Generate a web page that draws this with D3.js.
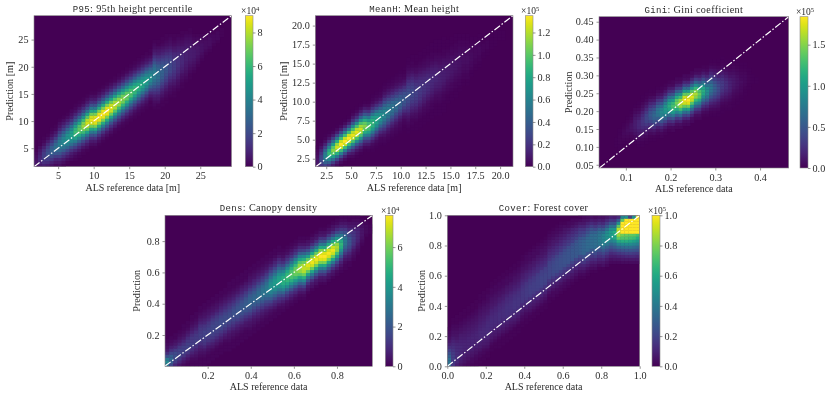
<!DOCTYPE html>
<html><head><meta charset="utf-8">
<script src="https://cdn.jsdelivr.net/npm/d3@7/dist/d3.min.js"></script>
<style>html,body{margin:0;background:#fff}svg{display:block;filter:blur(0.4px)}</style>
</head><body><svg id="c" width="830" height="396"></svg>
<script>
// Histogram counts in thousands, read by eye, column by column (reference bin) from each column's first occupied row.
const p95Start=[0,0,0,0,0,0,0,0,1,2,2,3,4,5,6,6,7,8,9,10,11,12,13,14,15,16,17,18,19,20,19,19,20,21,23,23,25,26,28,29,31,33,35,37,38,40,41,43,0,0];
const p95Cols=[[5,5,4,3,2,1],[7,9,10,9,7,5,3,1,1],[8,12,15,16,15,12,8,4,2,1],[6,11,16,20,22,20,16,11,6,3,1],[4,8,14,20,26,28,26,20,14,8,4,2,1],[2,5,9,16,24,30,33,30,24,16,9,5,2,1],[3,5,9,16,23,30,36,38,36,30,23,16,9,5,3,1],[1,3,6,11,17,26,34,40,42,40,34,26,17,11,6,3,1],[1,3,7,12,19,29,38,45,47,45,38,29,19,12,7,3,1],[2,4,7,13,21,32,42,49,52,49,42,32,21,13,7,4,2],[1,2,4,9,16,25,38,50,59,62,59,50,38,25,16,9,4,2,1],[1,2,5,10,17,28,41,54,65,68,65,54,41,28,17,10,5,2,1],[1,2,5,11,19,31,46,61,72,76,72,61,46,31,19,11,5,2,1],[1,3,6,12,21,34,51,67,80,84,80,67,51,34,21,12,6,3,1],[1,3,6,12,22,36,53,70,83,87,83,70,53,36,22,12,6,3,1],[1,3,6,12,22,36,54,71,85,89,85,71,54,36,22,12,6,3,1],[1,3,6,13,23,37,55,72,86,90,86,72,55,37,23,13,6,3,1],[1,3,6,13,23,37,55,72,86,90,86,72,55,37,23,13,6,3,1],[1,3,6,13,23,37,55,72,86,90,86,72,55,37,23,13,6,3,1],[1,3,6,12,22,35,52,69,82,86,82,69,52,35,22,12,6,3,1],[1,2,6,11,21,34,50,66,78,82,78,66,50,34,21,11,6,2,1],[1,2,5,11,20,32,48,62,74,78,74,62,48,32,20,11,5,2,1],[1,2,5,10,19,30,45,59,70,74,70,59,45,30,19,10,5,2,1],[1,2,5,10,18,29,43,56,67,70,67,56,43,29,18,10,5,2,1],[1,2,5,9,17,27,40,53,63,66,63,53,40,27,17,9,5,2,1],[1,2,4,9,16,25,38,50,59,62,59,50,38,25,16,9,4,2,1],[1,2,4,8,15,24,35,46,55,58,55,46,35,24,15,8,4,2,1],[1,2,4,8,14,22,33,43,51,54,51,43,33,22,14,8,4,2,1],[1,2,4,7,13,21,31,40,48,50,48,40,31,21,13,7,4,2,1],[1,1,3,6,11,18,27,36,43,45,43,36,27,18,11,6,3,1,1],[1,2,3,5,8,12,17,23,29,33,37,38,37,33,29,23,17,12,8,5,3,2,1],[1,1,3,5,7,11,15,20,25,29,32,33,32,29,25,20,15,11,7,5,3,1,1],[1,1,2,4,6,9,13,17,21,25,27,28,27,25,21,17,13,9,6,4,2,1,1],[1,1,2,3,5,8,11,15,18,21,23,24,23,21,18,15,11,8,5,3,2,1,1],[1,2,3,4,6,9,12,15,18,19,20,19,18,15,12,9,6,4,3,2,1],[1,1,2,3,5,7,10,12,14,16,16,16,14,12,10,7,5,3,2,1,1],[1,2,3,4,6,8,10,11,13,13,13,11,10,8,6,4,3,2,1],[1,1,2,3,4,6,8,9,10,10,10,9,8,6,4,3,2,1,1],[1,2,3,4,5,6,7,8,8,8,7,6,5,4,3,2,1],[1,1,2,3,4,5,6,7,7,7,6,5,4,3,2,1,1],[1,2,3,4,5,6,6,6,5,4,3,2,1],[1,2,3,4,5,5,5,4,3,2,1],[1,2,3,4,4,4,3,2,1],[1,2,3,3,3,2,1],[1,2,3,3,3,2,1],[1,2,2,2,1],[1,2,2,2,1],[1,1,1],[],[]];

const meanHStart=[0,0,0,0,0,0,0,1,2,2,3,4,5,5,5,6,7,7,8,9,10,11,12,11,12,12,13,14,15,16,17,17,18,21,22,23,25,27,27,30,32,33,36,37,39,40,42,42,0,0];
const meanHCols=[[7,8,7,5,3,2,1],[20,27,30,27,20,13,7,3,1],[26,41,55,60,55,41,26,13,5,2,1],[20,39,61,82,90,82,61,39,20,8,3,1],[10,24,47,75,100,110,100,75,47,24,10,3,1],[4,11,28,54,85,114,125,114,85,54,28,11,4,1],[1,4,12,30,58,92,123,135,123,92,58,30,12,4,1],[1,4,12,30,58,92,123,135,123,92,58,30,12,4,1],[1,4,12,30,58,92,123,135,123,92,58,30,12,4,1],[1,3,8,18,36,64,95,120,130,120,95,64,36,18,8,3,1],[1,3,8,18,36,64,95,120,130,120,95,64,36,18,8,3,1],[1,4,10,22,41,68,95,116,125,116,95,68,41,22,10,4,1],[1,3,9,20,36,59,84,102,110,102,84,59,36,20,9,3,1],[1,3,8,18,33,54,76,93,100,93,76,54,33,18,8,3,1],[1,2,4,9,19,34,53,73,85,90,85,73,53,34,19,9,4,2,1],[1,2,4,8,17,30,47,65,76,80,76,65,47,30,17,8,4,2,1],[1,2,3,7,15,26,41,57,67,70,67,57,41,26,15,7,3,2,1],[1,2,3,6,11,19,30,41,52,61,64,61,52,41,30,19,11,6,3,2,1],[1,2,3,6,10,17,27,37,48,55,58,55,48,37,27,17,10,6,3,2,1],[1,2,3,5,9,15,24,33,44,50,53,50,44,33,24,15,9,5,3,2,1],[1,2,3,5,8,14,22,30,40,46,48,46,40,30,22,14,8,5,3,2,1],[1,2,3,4,7,12,20,27,36,41,43,41,36,27,20,12,7,4,3,2,1],[1,1,2,3,6,10,17,24,32,36,38,36,32,24,17,10,6,3,2,1,1],[1,1,2,3,5,7,11,16,21,25,30,33,34,33,30,25,21,16,11,7,5,3,2,1,1],[1,1,2,2,4,6,10,14,18,23,26,29,30,29,26,23,18,14,10,6,4,2,2,1,1],[1,1,1,2,4,5,8,12,16,20,23,25,26,25,23,20,16,12,8,5,4,2,1,1,1],[1,1,1,2,3,5,7,11,14,18,20,22,23,22,20,18,14,11,7,5,3,2,1,1,1],[1,1,1,2,3,4,6,9,12,15,18,19,20,19,18,15,12,9,6,4,3,2,1,1,1],[1,1,1,2,3,4,5,8,11,14,16,17,18,17,16,14,11,8,5,4,3,2,1,1,1],[1,1,1,2,2,3,5,7,10,12,14,15,16,15,14,12,10,7,5,3,2,2,1,1,1],[1,1,1,1,2,3,4,6,8,11,12,14,14,14,12,11,8,6,4,3,2,1,1,1,1],[1,1,1,1,2,3,4,5,7,9,11,12,12,12,11,9,7,5,4,3,2,1,1,1,1],[1,1,1,1,2,2,3,5,6,8,10,11,11,11,10,8,6,5,3,2,2,1,1,1,1],[1,1,1,2,3,4,5,6,8,9,9,9,8,6,5,4,3,2,1,1,1],[1,1,1,2,3,3,5,6,7,8,8,8,7,6,5,3,3,2,1,1,1],[1,1,1,2,2,3,4,5,6,7,7,7,6,5,4,3,2,2,1,1,1],[1,1,2,2,3,4,5,5,6,6,6,5,5,4,3,2,2,1,1],[1,1,2,2,3,4,4,5,5,5,4,4,3,2,2,1,1],[1,1,2,2,3,4,4,5,5,5,4,4,3,2,2,1,1],[1,1,2,3,3,4,4,4,3,3,2,1,1],[1,1,2,2,3,3,3,2,2,1,1],[1,1,2,2,3,3,3,2,2,1,1],[1,1,2,2,2,1,1],[1,1,2,2,2,1,1],[1,1,1,1,1],[1,1,1,1,1],[1,1,1],[1,1,1],[],[]];

const giniStart=[0,0,0,0,7,6,8,8,8,8,7,7,8,9,9,10,10,11,12,12,13,13,14,14,15,16,16,17,17,17,17,17,18,19,19,20,21,22,24,26,28,28,0,0,0,0,0,0,0,0];
const giniCols=[[],[],[],[],[1,1,1],[1,1,2,2,2,1,1],[1,2,3,4,3,2,1],[1,2,3,5,6,5,3,2,1],[1,2,3,5,8,9,8,5,3,2,1],[1,3,5,8,11,13,14,13,11,8,5,3,1],[1,2,4,7,11,15,19,20,19,15,11,7,4,2,1],[1,1,3,6,10,16,22,26,28,26,22,16,10,6,3,1,1],[1,2,4,8,14,21,29,36,38,36,29,21,14,8,4,2,1],[1,2,5,10,18,28,38,47,50,47,38,28,18,10,5,2,1],[1,2,6,12,22,34,46,56,60,56,46,34,22,12,6,2,1],[1,3,7,14,26,40,55,68,72,68,55,40,26,14,7,3,1],[2,3,9,17,31,48,65,80,85,80,65,48,31,17,9,3,2],[2,4,10,20,36,56,77,94,100,94,77,56,36,20,10,4,2],[2,5,12,23,41,64,89,108,115,108,89,64,41,23,12,5,2],[3,5,13,26,47,73,100,122,130,122,100,73,47,26,13,5,3],[3,6,15,29,52,81,112,136,145,136,112,81,52,29,15,6,3],[3,7,17,33,59,92,127,155,165,155,127,92,59,33,17,7,3],[4,7,18,36,65,101,139,169,180,169,139,101,65,36,18,7,4],[4,7,18,37,66,103,142,173,184,173,142,103,66,37,18,7,4],[4,7,18,35,63,98,135,165,175,165,135,98,63,35,18,7,4],[3,6,16,32,58,90,123,150,160,150,123,90,58,32,16,6,3],[3,6,14,28,50,78,108,132,140,132,108,78,50,28,14,6,3],[2,5,12,23,41,64,89,108,115,108,89,64,41,23,12,5,2],[2,4,9,18,32,50,69,85,90,85,69,50,32,18,9,4,2],[1,2,5,10,18,30,44,58,68,72,68,58,44,30,18,10,5,2,1],[1,2,4,8,14,23,34,44,52,55,52,44,34,23,14,8,4,2,1],[1,1,3,6,10,17,26,34,40,42,40,34,26,17,10,6,3,1,1],[1,1,2,4,8,13,20,26,30,32,30,26,20,13,8,4,2,1,1],[1,2,3,6,10,15,19,23,24,23,19,15,10,6,3,2,1],[1,2,2,4,7,10,14,16,17,16,14,10,7,4,2,2,1],[1,1,2,3,5,7,10,11,12,11,10,7,5,3,2,1,1],[1,1,2,3,5,7,8,8,8,7,5,3,2,1,1],[1,1,2,3,4,5,6,5,4,3,2,1,1],[1,1,2,3,4,4,4,3,2,1,1],[1,1,2,2,2,1,1],[1,1,1],[1,1],[],[],[],[],[],[],[],[]];

const densStart=[0,0,0,0,0,0,0,0,0,0,1,2,3,4,5,5,6,7,8,9,10,11,12,13,14,15,16,17,18,19,20,21,22,22,24,25,26,27,27,28,29,30,31,32,33,35,37,40,43,44];
const densCols=[[30,35,30,18,10,5,3,2,1],[16,22,25,22,16,10,6,3,2,1],[8,13,17,18,17,13,8,5,3,1,1],[4,8,12,15,16,15,12,8,5,3,2,1],[2,4,7,11,14,15,14,11,8,5,3,2,1,1],[1,2,4,7,11,14,15,14,12,9,6,4,2,1,1],[1,1,2,4,7,10,13,14,13,12,10,7,5,3,2,1,1],[1,1,2,3,5,7,10,13,14,13,12,10,7,5,3,2,1,1],[1,1,1,2,3,5,7,10,13,14,14,13,12,10,7,5,3,2,1,1],[1,1,1,2,3,5,8,11,13,15,15,15,13,11,8,6,4,3,2,1,1],[1,1,1,2,3,5,8,11,13,15,15,15,13,11,8,6,4,3,2,1,1],[1,1,1,2,4,6,9,12,14,16,16,16,14,12,9,6,4,3,2,1,1],[1,1,1,2,4,6,9,12,14,16,16,16,14,12,9,6,4,3,2,1,1],[1,1,1,2,4,6,9,12,15,17,17,17,15,12,9,7,5,3,2,1,1],[1,1,1,2,4,6,9,12,15,17,17,17,15,12,9,7,5,3,2,1,1],[1,1,1,2,3,4,6,9,12,15,17,18,17,15,12,10,7,5,3,2,1,1,1],[1,1,1,2,3,4,7,10,13,16,18,19,18,16,13,10,7,5,3,2,1,1,1],[1,1,1,2,3,5,7,10,14,17,19,20,19,17,14,11,8,5,3,2,1,1,1],[1,1,1,2,3,5,8,11,14,18,20,21,20,18,14,11,8,6,4,2,1,1,1],[1,1,1,2,4,5,8,11,15,19,21,22,21,19,15,12,8,6,4,2,1,1,1],[1,1,2,3,4,6,9,13,17,21,23,24,23,21,17,13,9,6,4,3,2,1,1],[1,1,2,3,4,6,9,13,17,21,24,25,24,21,17,13,9,7,4,3,2,1,1],[1,1,2,3,5,7,10,14,19,23,26,27,26,23,19,14,10,7,5,3,2,1,1],[1,1,2,3,5,7,11,15,20,25,28,29,28,25,20,15,11,7,5,3,2,1,1],[1,1,2,3,5,8,12,16,22,27,30,31,30,27,22,16,12,8,5,3,2,1,1],[1,1,2,3,6,10,15,21,27,33,37,38,37,33,27,21,15,10,6,3,2,1,1],[1,1,2,4,7,10,16,22,29,36,40,41,40,36,29,22,16,10,7,4,2,1,1],[1,1,2,4,8,11,17,24,31,38,43,44,43,38,31,24,17,11,8,4,2,1,1],[1,2,3,6,10,16,24,33,41,47,48,47,41,33,24,16,10,6,3,2,1],[1,2,3,7,11,17,26,36,45,50,52,50,45,36,26,17,11,7,3,2,1],[1,2,4,7,11,19,28,38,48,54,56,54,48,38,28,19,11,7,4,2,1],[1,2,4,8,12,20,31,41,51,58,60,58,51,41,31,20,12,8,4,2,1],[1,2,4,8,13,22,33,44,56,63,65,63,56,44,33,22,13,8,4,2,1],[1,2,4,8,14,24,36,48,59,67,69,67,59,48,36,24,14,8,4,2,1],[1,3,5,10,18,29,43,57,68,72,68,57,43,29,18,10,5,3,1],[1,3,5,10,19,30,45,59,70,74,70,59,45,30,19,10,5,3,1],[1,3,5,10,18,30,45,59,70,74,70,59,45,30,18,10,5,3,1],[1,3,5,11,19,31,46,61,72,76,72,61,46,31,19,11,5,3,1],[1,3,5,11,19,31,46,61,72,76,72,61,46,31,19,11,5,3,1],[1,3,5,11,19,31,46,60,71,75,71,60,46,31,19,11,5,3,1],[1,3,5,10,18,30,45,59,70,74,70,59,45,30,18,10,5,3,1],[1,2,5,9,16,27,40,53,63,66,63,53,40,27,16,9,5,2,1],[1,2,4,7,12,20,30,40,47,50,47,40,30,20,12,7,4,2,1],[1,1,2,4,7,12,18,24,29,30,29,24,18,12,7,4,2,1,1],[1,1,3,5,8,12,16,19,20,19,16,12,8,5,3,1,1],[1,2,3,5,8,11,12,13,12,11,8,5,3,2,1],[1,2,3,5,7,8,8,8,7,5,3,2,1],[1,2,3,4,4,4,3,2,1],[1,2,2,2,1],[1,1,1]];

const coverStart=[0,0,0,0,0,0,0,0,1,2,3,5,6,6,7,8,9,10,11,13,14,15,16,17,18,19,21,22,23,24,25,26,27,28,29,29,30,31,31,32,32,33,34,34,34,34,34,34,34,34];
const coverCols=[[38,38,36,30,24,18,13,9,6,4,3,2,1],[15,17,18,18,17,15,13,11,9,7,5,4,3,2,1,1],[8,11,13,13,13,12,11,10,8,6,5,4,3,2,1,1,1],[5,7,9,10,11,11,11,10,9,8,7,5,4,3,2,1,1,1],[3,5,6,8,9,10,10,10,9,8,7,6,5,4,3,2,1,1,1],[2,3,5,6,8,9,10,10,10,9,8,7,6,5,4,3,2,1,1,1],[1,2,3,5,6,8,9,10,10,10,9,8,7,6,5,4,3,2,1,1,1],[1,1,2,3,5,6,8,9,10,10,10,9,8,7,6,5,4,3,2,1,1,1],[1,1,2,3,5,7,8,10,11,11,11,10,9,8,7,6,5,4,3,2,1,1,1],[1,1,2,3,5,7,8,10,11,11,11,10,9,8,7,6,5,4,3,2,1,1,1],[1,1,2,4,6,7,9,11,12,12,12,11,10,9,7,6,5,4,3,2,2,1,1],[1,1,2,4,6,7,9,11,12,12,12,11,10,9,7,6,5,4,3,2,2,1,1],[1,1,2,4,6,7,9,11,12,12,12,11,10,9,7,6,5,4,3,2,2,1,1],[1,1,1,2,4,6,8,10,12,13,13,13,12,11,10,8,7,5,4,3,2,2,1,1],[1,1,1,2,4,6,8,10,12,13,13,13,12,11,10,8,7,5,4,3,2,2,1,1],[1,1,1,3,4,6,8,11,13,14,14,14,13,12,11,9,7,6,5,3,3,2,1,1],[1,1,1,3,4,6,8,11,13,14,14,14,13,12,11,9,7,6,5,3,3,2,1,1],[1,1,1,3,5,7,9,11,14,15,15,15,14,13,11,9,8,6,5,4,3,2,1,1],[1,1,1,3,5,7,9,11,14,15,15,15,14,13,11,9,8,6,5,4,3,2,1,1],[1,1,2,3,5,7,10,12,15,16,16,16,15,14,12,10,8,7,5,4,3,2,1,1],[1,1,2,3,5,8,10,13,16,17,17,17,16,15,12,10,9,7,5,4,3,2,2,1],[1,1,2,4,6,8,11,14,17,18,18,18,17,16,13,11,9,7,6,4,3,3,2,1],[1,1,2,4,6,8,11,14,17,18,18,18,17,16,13,11,9,7,6,4,3,3,2,1],[1,1,2,4,6,9,12,14,18,19,19,19,18,17,13,12,10,8,6,5,3,3,2,1],[1,1,2,4,6,9,12,15,19,20,20,20,19,18,14,12,10,8,6,5,4,3,2,1],[1,1,2,4,6,9,12,15,19,20,20,20,19,18,14,12,10,8,6,5,4,3,2,1],[1,1,2,4,7,10,13,16,20,21,21,21,20,19,15,13,11,9,7,5,4,3,2,1],[1,2,2,4,7,10,13,17,21,22,22,22,21,19,16,13,11,9,7,6,4,3,2,1],[1,2,3,5,7,11,14,18,22,23,23,23,22,20,16,14,12,9,7,6,4,3,2,1],[1,2,3,5,8,11,15,18,23,24,24,24,23,21,17,15,12,10,8,6,4,3,2,1],[1,2,3,5,8,12,15,19,24,25,25,25,24,22,18,15,13,10,8,6,5,3,1],[1,2,3,6,8,12,16,20,25,26,26,26,25,23,18,16,13,11,8,6,3,2],[1,2,4,6,9,12,16,20,26,27,27,27,26,24,19,17,14,11,9,5,3,2],[1,2,4,6,9,13,17,21,27,28,28,28,27,25,20,17,14,11,7,4,2],[1,2,4,7,10,14,18,23,29,30,30,30,29,26,21,18,15,10,6,3,1],[1,2,4,7,10,15,20,24,31,32,32,32,31,28,23,19,15,10,6,4,2],[1,2,4,8,11,16,21,26,33,34,34,34,33,29,24,20,14,9,5,3],[1,3,5,8,12,16,21,27,34,35,35,35,34,30,25,18,12,7,4],[1,3,5,8,12,17,22,28,35,36,36,36,35,31,23,16,10,6,3],[1,3,6,9,14,18,24,31,39,40,40,39,36,29,20,13,8,4],[1,4,6,10,15,21,27,35,44,45,45,44,38,28,19,12,7,4],[2,4,7,11,17,23,30,39,49,50,50,48,38,27,18,11,6,3],[2,4,8,12,18,25,33,43,53,55,55,50,38,26,16,9,5],[2,5,8,13,20,28,36,47,58,60,62,52,38,25,15,8,4],[2,5,9,15,23,33,45,60,75,85,90,90,75,50,28,12],[3,6,10,17,25,35,48,62,72,78,105,115,120,105,75,45],[3,6,11,18,26,36,48,62,72,76,110,130,140,130,105,50],[3,6,11,18,26,36,48,60,70,75,115,140,160,150,100,20],[3,6,11,17,25,34,45,56,68,74,120,150,170,170,140,50],[3,6,10,16,24,32,42,52,62,70,120,160,190,220,220,120]];

const p95Ticks=[5,10,15,20,25];
const meanHTicks=[2.5,5,7.5,10,12.5,15,17.5,20];
const giniXTicks=[0.1,0.2,0.3,0.4];
const giniYTicks=[0.05,0.1,0.15,0.2,0.25,0.3,0.35,0.4,0.45];
const densTicks=[0.2,0.4,0.6,0.8];
const coverTicks=[0,0.2,0.4,0.6,0.8,1];
const p95Bar=[0,2,4,6,8];
const meanHBar=[0,0.2,0.4,0.6,0.8,1,1.2];
const giniBar=[0,0.5,1,1.5];
const densBar=[0,2,4,6];
const coverBar=[0,0.2,0.4,0.6,0.8,1];

const BINS=50, SERIF='"Liberation Serif",serif', MONO='"Liberation Mono",monospace', INK='#2b2b2b', EDGE='#8a8a8a';
const panels=[
 {name:'P95',title:': 95th height percentile',xl:'ALS reference data [m]',yl:'Prediction [m]',start:p95Start,cols:p95Cols,xd:[1.6,29.4],yd:[1.6,29.4],xt:p95Ticks,yt:p95Ticks,xf:'d',yf:'d',bar:p95Bar,bf:'d',exp:4,vmax:9.0,unit:10,
  box:[34,231.5,15.7,166.7],cb:[245.3,253],ylx:10},
 {name:'MeanH',title:': Mean height',xl:'ALS reference data [m]',yl:'Prediction [m]',start:meanHStart,cols:meanHCols,xd:[1.4,21.3],yd:[1.45,21.3],xt:meanHTicks,yt:meanHTicks,xf:'.1f',yf:'.1f',bar:meanHBar,bf:'.1f',exp:5,vmax:1.35,unit:100,
  box:[315.3,513,15.7,166.7],cb:[525.3,533],ylx:284},
 {name:'Gini',title:': Gini coefficient',xl:'ALS reference data',yl:'Prediction',start:giniStart,cols:giniCols,xd:[0.04,0.464],yd:[0.041,0.464],xt:giniXTicks,yt:giniYTicks,xf:'.1f',yf:'.2f',bar:giniBar,bf:'.1f',exp:5,vmax:1.84,unit:100,
  box:[599,788.7,16.7,168],cb:[800,808],ylx:569},
 {name:'Dens',title:': Canopy density',xl:'ALS reference data',yl:'Prediction',start:densStart,cols:densCols,xd:[0.002,0.964],yd:[0,0.965],xt:densTicks,yt:densTicks,xf:'.1f',yf:'.1f',bar:densBar,bf:'d',exp:4,vmax:7.6,unit:10,
  box:[165,372.3,215.3,366.3],cb:[385.3,393],ylx:137},
 {name:'Cover',title:': Forest cover',xl:'ALS reference data',yl:'Prediction',start:coverStart,cols:coverCols,xd:[0,1],yd:[0,1],xt:coverTicks,yt:coverTicks,xf:'.1f',yf:'.1f',bar:coverBar,bf:'.1f',exp:5,vmax:1.0,unit:100,
  box:[447.3,639.7,215.3,366.3],cb:[652,660],ylx:422}
];
const svg=d3.select('#c');
const defs=svg.append('defs');
function styleAxis(g){
  g.select('.domain').remove();
  g.selectAll('line').attr('stroke',INK).attr('stroke-width',0.5);
  g.selectAll('text').attr('fill',INK).attr('font-family',SERIF).attr('font-size',10.2);
}
panels.forEach((p,i)=>{
  const [l,r,t,b]=p.box;
  const g=svg.append('g');
  const x=d3.scaleLinear().domain(p.xd).range([l,r]);
  const y=d3.scaleLinear().domain(p.yd).range([b,t]);
  const xb=d3.scaleBand().domain(d3.range(BINS)).range([l,r]);
  const yb=d3.scaleBand().domain(d3.range(BINS)).range([b,t]);
  const color=d3.scaleSequential(d3.interpolateViridis).domain([0,p.vmax*p.unit]);
  const clip='clip'+i;
  defs.append('clipPath').attr('id',clip).append('rect').attr('x',l).attr('y',t).attr('width',r-l).attr('height',b-t);
  g.append('rect').attr('x',l).attr('y',t).attr('width',r-l).attr('height',b-t).attr('fill',color(0));
  const cells=p.cols.flatMap((col,c)=>col.map((v,k)=>({c,r:p.start[c]+k,v})));
  g.append('g').attr('clip-path',`url(#${clip})`).selectAll('rect').data(cells).join('rect')
    .attr('x',d=>xb(d.c)).attr('y',d=>yb(d.r))
    .attr('width',xb.bandwidth()+0.4).attr('height',yb.bandwidth()+0.4)
    .attr('fill',d=>color(Math.min(d.v,p.vmax*p.unit)));
  const lo=Math.max(p.xd[0],p.yd[0]), hi=Math.min(p.xd[1],p.yd[1]);
  g.append('line').attr('clip-path',`url(#${clip})`)
    .attr('x1',x(lo)).attr('y1',y(lo)).attr('x2',x(hi)).attr('y2',y(hi))
    .attr('stroke','#fff').attr('stroke-width',1.2).attr('stroke-dasharray','7 2 1.5 2');
  g.append('g').attr('transform',`translate(0,${b})`)
    .call(d3.axisBottom(x).tickValues(p.xt).tickFormat(d3.format(p.xf)).tickSize(2.5).tickPadding(3)).call(styleAxis);
  g.append('g').attr('transform',`translate(${l},0)`)
    .call(d3.axisLeft(y).tickValues(p.yt).tickFormat(d3.format(p.yf)).tickSize(2.5).tickPadding(3)).call(styleAxis);
  g.append('rect').attr('x',l).attr('y',t).attr('width',r-l).attr('height',b-t).attr('fill','none').attr('stroke',EDGE).attr('stroke-width',0.6);
  const ti=g.append('text').attr('x',(l+r)/2).attr('y',t-4).attr('text-anchor','middle').attr('fill',INK).attr('font-family',SERIF).attr('font-size',10.2).attr('letter-spacing',0.35);
  ti.append('tspan').attr('font-family',MONO).attr('font-size',9).text(p.name);
  ti.append('tspan').text(p.title);
  g.append('text').attr('x',(l+r)/2).attr('y',b+24).attr('text-anchor','middle').attr('fill',INK).attr('font-family',SERIF).attr('font-size',10).text(p.xl);
  g.append('text').attr('transform',`translate(${p.ylx},${(t+b)/2}) rotate(-90)`).attr('text-anchor','middle').attr('dy','0.33em').attr('fill',INK).attr('font-family',SERIF).attr('font-size',10.2).text(p.yl);
  // colour bar
  const [c0,c1]=p.cb;
  const cs=d3.scaleLinear().domain([0,p.vmax]).range([b,t]);
  const gid='grad'+i;
  const grad=defs.append('linearGradient').attr('id',gid).attr('x1',0).attr('y1',1).attr('x2',0).attr('y2',0);
  d3.range(0,1.0001,0.05).forEach(f=>grad.append('stop').attr('offset',f).attr('stop-color',d3.interpolateViridis(f)));
  g.append('rect').attr('x',c0).attr('y',t).attr('width',c1-c0).attr('height',b-t).attr('fill',`url(#${gid})`).attr('stroke',EDGE).attr('stroke-width',0.6);
  g.append('g').attr('transform',`translate(${c1},0)`)
    .call(d3.axisRight(cs).tickValues(p.bar).tickFormat(d3.format(p.bf)).tickSize(2.5).tickPadding(2)).call(styleAxis);
  const et=g.append('text').attr('x',(c0+c1)/2+1).attr('y',t-1.5).attr('text-anchor','middle').attr('fill',INK).attr('font-family',SERIF).attr('font-size',9.5);
  et.append('tspan').text('×10');
  et.append('tspan').attr('dy',-3).attr('font-size',6.5).text(p.exp);
});
</script></body></html>
